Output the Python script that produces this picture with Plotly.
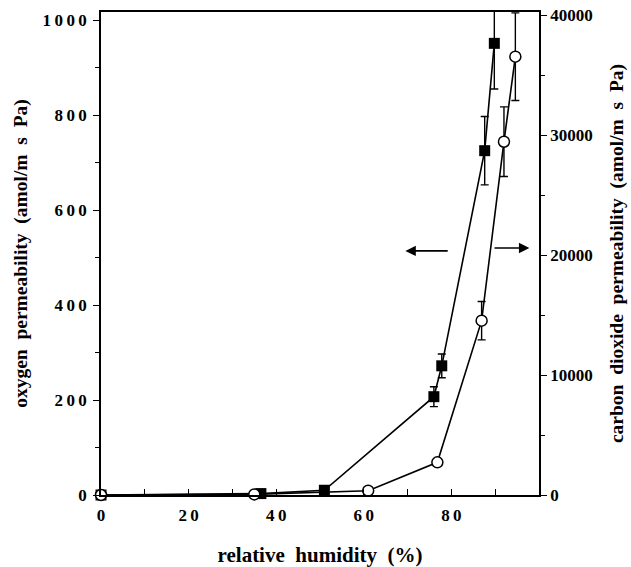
import plotly.graph_objects as go

# Oxygen permeability (left axis), filled squares
o2_rh = [0, 36.5, 51, 76, 77.8, 87.6, 89.8]
o2_perm = [0, 3, 10, 207, 272, 725, 951]
o2_err = [0, 0, 0, 21, 25, 72, 96]

# Carbon dioxide permeability (right axis), open circles
co2_rh = [0, 35, 61, 76.8, 86.9, 92, 94.6]
co2_perm = [0, 50, 360, 2720, 14525, 29440, 36525]
co2_err = [0, 0, 0, 0, 1600, 2900, 3650]

x_ticks = [0, 20, 40, 60, 80]
x_ticktext = ["0", "2\u20090", "4\u20090", "6\u20090", "8\u20090"]
y_ticks = [0, 200, 400, 600, 800, 1000]
y_ticktext = ["0", "2\u20090\u20090", "4\u20090\u20090", "6\u20090\u20090", "8\u20090\u20090", "1\u20090\u20090\u20090"]
y2_ticks = [0, 10000, 20000, 30000, 40000]
y2_ticktext = ["0", "10000", "20000", "30000", "40000"]

SERIF = "Liberation Serif"
SP = "\u00a0\u00a0"

fig = go.Figure()
fig.add_trace(go.Scatter(
    x=o2_rh, y=o2_perm, mode="lines+markers",
    line=dict(color="black", width=1.6),
    marker=dict(symbol="square", size=11, color="black"),
    error_y=dict(type="data", array=o2_err, color="black", thickness=1.4, width=4),
    cliponaxis=False, showlegend=False, yaxis="y"))
fig.add_trace(go.Scatter(
    x=co2_rh, y=co2_perm, mode="lines+markers",
    line=dict(color="black", width=1.6),
    marker=dict(symbol="circle", size=11, color="white", line=dict(color="black", width=1.5)),
    error_y=dict(type="data", array=co2_err, color="black", thickness=1.4, width=4),
    cliponaxis=False, showlegend=False, yaxis="y2"))

# arrows
fig.add_annotation(x=69.5, y=514, ax=79.5, ay=514, xref="x", yref="y", axref="x", ayref="y",
                   text="", showarrow=True, arrowhead=2, arrowsize=1.3, arrowwidth=1.6, arrowcolor="black")
fig.add_annotation(x=97.8, y=520, ax=89.5, ay=520, xref="x", yref="y", axref="x", ayref="y",
                   text="", showarrow=True, arrowhead=2, arrowsize=1.3, arrowwidth=1.6, arrowcolor="black")

fig.update_layout(
    width=631, height=567,
    margin=dict(l=101, r=92, t=12, b=72),
    paper_bgcolor="white", plot_bgcolor="white",
    xaxis=dict(range=[0, 100], tickvals=x_ticks, ticktext=x_ticktext, automargin=False,
               ticks="inside", ticklen=6, tickwidth=1.4, tickcolor="black",
               minor=dict(tickvals=[10, 30, 50, 70, 90], ticks="inside", ticklen=6, tickwidth=1.4, tickcolor="black"),
               showline=True, linecolor="black", linewidth=1.6, mirror=True,
               showgrid=False, zeroline=False, ticklabelstandoff=4,
               tickfont=dict(family=SERIF, size=17, color="black", weight="bold"),
               title=dict(text="relative" + SP + "humidity" + SP + "(%)",
                          font=dict(family=SERIF, size=21, color="black", weight="bold"), standoff=29)),
    yaxis=dict(range=[0, 1017], tickvals=y_ticks, ticktext=y_ticktext, automargin=False,
               ticks="outside", ticklen=6, tickwidth=1.4, tickcolor="black",
               minor=dict(tickvals=[100, 300, 500, 700, 900], ticks="outside", ticklen=4, tickwidth=1.4, tickcolor="black"),
               showline=True, linecolor="black", linewidth=1.6,
               showgrid=False, zeroline=False, ticklabelstandoff=3,
               tickfont=dict(family=SERIF, size=17, color="black", weight="bold"),
               title=dict(text="oxygen" + SP + "permeability" + SP + "(amol/m" + SP + "s" + SP + "Pa)",
                          font=dict(family=SERIF, size=19.5, color="black", weight="bold"), standoff=10)),
    yaxis2=dict(range=[0, 40250], overlaying="y", side="right", tickvals=y2_ticks, ticktext=y2_ticktext,
                automargin=False,
                ticks="outside", ticklen=6, tickwidth=1.4, tickcolor="black",
                minor=dict(tickvals=[5000, 15000, 25000, 35000], ticks="outside", ticklen=4, tickwidth=1.4, tickcolor="black"),
                showline=True, linecolor="black", linewidth=1.6,
                showgrid=False, zeroline=False,
                tickfont=dict(family=SERIF, size=17, color="black", weight="bold"),
                title=dict(text="carbon" + SP + "dioxide" + SP + "permeability" + SP + "(amol/m" + SP + "s" + SP + "Pa)",
                           font=dict(family=SERIF, size=19.5, color="black", weight="bold"), standoff=18)),
    font=dict(family=SERIF, color="black"),
)

fig.write_html("out.html")
